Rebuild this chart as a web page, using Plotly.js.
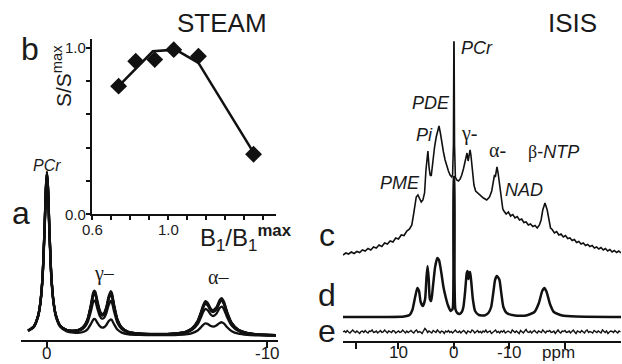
<!DOCTYPE html>
<html><head><meta charset="utf-8">
<script src="https://cdn.plot.ly/plotly-3.0.1.min.js"></script>
<style>html,body{margin:0;padding:0;background:#fff}#c{width:622px;height:364px}</style>
</head><body><div id="c"></div>
<script>
// ---------- panel b (STEAM B1 dependence) ----------
const bX = [0.74, 0.83, 0.93, 1.03, 1.16, 1.45];
const bY = [0.77, 0.92, 0.93, 0.99, 0.95, 0.36];
const fitX = [0.74, 0.92, 1.04, 1.16, 1.45];
const fitY = [0.77, 0.98, 0.99, 0.91, 0.37];
const bXTicks = [0.6, 0.7, 0.8, 0.9, 1.0, 1.1, 1.2, 1.3, 1.4, 1.5];
const bXLabelVals = [0.6, 1.0];
const bXLabels = ['0.6', '1.0'];
const bYTicks = [0, 0.2, 0.4, 0.6, 0.8, 1.0];
const bYLabelVals = [0, 1.0];
const bYLabels = ['0.0', '1.0'];

// ---------- panel a (STEAM spectra) ----------
const aPpm = [0.86,0.6,0.4,0.3,0.2,0.1,0.05,0,-0.05,-0.1,-0.2,-0.3,-0.4,-0.6,-0.9,-1.2,-1.5,-1.7,-1.85,-2.0,-2.1,-2.15,-2.2,-2.3,-2.4,-2.5,-2.6,-2.7,-2.8,-2.9,-2.95,-3.05,-3.2,-3.4,-3.7,-4.2,-5.0,-5.8,-6.3,-6.6,-6.85,-7.0,-7.1,-7.2,-7.3,-7.45,-7.55,-7.7,-7.85,-7.95,-8.05,-8.2,-8.4,-8.7,-9.1,-9.6,-10.4];
const aPcr = [5,9,20,33,59,113,147,163,147,113,59,33,20,9,4,2.5,1.5,1.2,1,1,0.9,0.9,0.9,0.8,0.8,0.7,0.7,0.7,0.6,0.6,0.6,0.6,0.5,0.5,0.4,0.3,0.2,0.1,0.1,0.1,0,0,0,0,0,0,0,0,0,0,0,0,0,0,0,0,0];
const aNtp = [0.5,0.5,0.6,0.6,0.7,0.7,0.8,0.8,0.8,0.9,1.0,1.1,1.2,1.4,2.0,2.8,5.3,9.5,16.5,31.1,42.9,44.8,43.7,33.7,25.1,21.6,22.8,28.8,39.1,44.8,42.9,31.1,16.5,8.1,3.8,2.2,1.8,2.5,4.2,7.8,15.4,24.3,31.2,35.2,33.6,27.6,26,29,36.3,38.1,34.3,23.6,13.2,6.4,3.1,1.6,0.8];
const aPcrScale = [1.0, 1.0, 0.99, 1.0, 0.98, 0.96];
const aNtpScale = bY; // NTP amplitude follows S/Smax of each acquisition
const aTicks = [0, -10];
const aTickLabels = ['0', '-10'];

// ---------- panel c (ISIS measured spectrum) ----------
const cPpm = [20.0,19.5,19.0,18.5,18.0,17.5,17.0,16.5,16.0,15.5,15.0,14.5,14.0,13.5,13.0,12.5,12.0,11.5,11.0,10.5,10.0,9.5,9.0,8.5,8.0,7.6,7.3,7.0,6.8,6.5,6.2,5.9,5.6,5.3,5.05,4.85,4.7,4.5,4.3,4.1,3.8,3.5,3.2,2.95,2.7,2.45,2.2,1.9,1.6,1.3,1.0,0.7,0.4,0.25,0.1,0.02,-0.02,-0.1,-0.25,-0.5,-0.8,-1.1,-1.4,-1.7,-2.0,-2.2,-2.35,-2.55,-2.75,-2.9,-3.05,-3.3,-3.6,-3.9,-4.3,-4.8,-5.3,-5.9,-6.4,-6.8,-7.1,-7.3,-7.45,-7.6,-7.75,-7.95,-8.2,-8.5,-8.8,-9.0,-9.4,-9.8,-10.2,-10.6,-11.0,-11.4,-11.8,-12.2,-12.6,-13.0,-13.4,-13.8,-14.2,-14.6,-15.0,-15.4,-15.7,-16.0,-16.4,-16.8,-17.1,-17.4,-17.7,-18.1,-18.5,-18.9,-19.3,-19.7,-20.1,-20.5,-20.9,-21.3,-21.7,-22.1,-22.5,-22.9,-23.3,-23.7,-24.1,-24.5,-24.9,-25.3,-25.7,-26.1,-26.5,-26.9,-27.3,-27.7,-28.1,-28.5,-28.9,-29.3,-29.7,-30.1];
const cVal = [0,2,1,3,1.5,3.5,2.5,5,4,6.5,5,8,7,10,8.5,12,11,14,13,17,16,20,19.5,24,26,30,40,52,58,60,56,53,55,62,85,100,104,88,80,79,95,108,118,125,129,122,112,103,95,89,84,80,78,80,110,213,213,110,78,75,74,76,80,86,95,101,102,94,100,105,100,84,70,64,62,59,57,55,58,64,74,80,78,82,88,82,70,56,46,44,41,43,39,40.5,37,38.5,35,36,32.5,33,30,31,28.5,29.5,27,30,35,45,52,45,35,27,25.5,22,23.5,20,21,18,19.5,16.5,17,14.5,15.5,12.5,13.5,11,12,9.5,10.5,8.5,9.5,7,8,6,7.5,5,6.5,4,5.5,3,4.5,2.5,4,2];

// ---------- panel d (ISIS fitted spectrum) ----------
const dPpm = [20,12,9,8,7.5,7.0,6.6,6.3,6.0,5.6,5.2,4.95,4.75,4.55,4.35,4.1,3.8,3.4,3.0,2.7,2.3,1.9,1.5,1.1,0.6,0.25,0.1,0.03,-0.03,-0.1,-0.25,-0.6,-1.0,-1.4,-1.7,-2.0,-2.3,-2.45,-2.6,-2.75,-2.9,-3.1,-3.4,-3.8,-4.5,-5.5,-6.2,-6.7,-7.1,-7.4,-7.7,-7.9,-8.2,-8.5,-8.9,-9.5,-11,-13,-14.5,-15.3,-15.9,-16.3,-16.7,-17.3,-18,-19.5,-22,-30.1];
const dVal = [0,0,0.5,2,7,20,29,26,15,11,18,40,51,38,18,16,30,50,59,57,45,30,20,12,6,8,40,140,140,40,8,4,3,5,10,25,44,46,38,44,45,36,18,6,2,1.5,4,10,25,37,41,40,37,25,10,4,1.5,1.5,5,14,26,29,25,13,5,1.5,0.5,0];

// ---------- panel e (residual), sampled every 0.25 ppm from 20 ppm ----------
const eStart = 20, eStep = -0.25;
const eVal = [
  0,1,-0.5,1.5,0,-1,0.5,2,0.5,-0.5,1,0,-1.5,0.5,1,-0.5,1.5,0,-1,1,
  0.5,2,-0.5,0,1,-1,0.5,1.5,-0.5,0,2,0.5,-1,1,0,-0.5,1.5,1,-1,0.5,
  1,-0.5,0,2,0.5,-1,1,-0.5,0.5,1.5,0,-1,1,2,-0.5,0.5,0,-1.5,1,3.5,
  2,-0.5,1,0,-1,1.5,0.5,-0.5,2,0,-1,1,0.5,-1.5,1,0,1.5,-0.5,0.5,-1,
  1,2,0,-0.5,1,-1,0.5,1.5,0,-1.5,1,0.5,-0.5,2,1,-1,0,1.5,-0.5,0.5,
  -1,1,0,2,-0.5,0.5,1,-1.5,0,1,2,-0.5,0.5,-1,1,0,1.5,-1,0.5,1,
  0,-1,2,0.5,-0.5,1,0,-1.5,1.5,0.5,-1,1,2.5,0,-0.5,1,-1,0.5,1.5,0,
  -1,1,0.5,-0.5,2,0,-1,1,0.5,1.5,-0.5,0,1,-1.5,0.5,2,0,-1,1,0.5,
  1.5,-0.5,0,1,-1,0.5,2,0,-1.5,1,0.5,-0.5,1.5,0,-1,1,2,-0.5,0.5,0,
  -1,1.5,0.5,-0.5,1,0,-1,2,0.5,-0.5,1,-1.5,0,1,0.5,-0.5,1.5,0,-1,1,
  0];
const ppmTicks = [17.7, 10, 0, -10, -20];
const ppmLabelVals = [10, 0, -10];
const ppmLabels = ['10', '0', '-10'];

// ---------- build ----------
const W = 622, H = 364;
const BLACK = '#111';
const TXT = '#1a1a1a';
const FONT = 'Liberation Sans, Arial, sans-serif';
const SERIF = 'Liberation Serif, Times New Roman, serif';
const offC = 86, offD = 24, offE = 9;

const traces = [];
for (let i = 0; i < aNtpScale.length; i++) {
  traces.push({x: aPpm, y: aPpm.map((_, k) => aPcrScale[i] * aPcr[k] + aNtpScale[i] * aNtp[k]),
    xaxis: 'x', yaxis: 'y', mode: 'lines', line: {color: BLACK, width: 2.3, shape: 'spline', smoothing: 0.6}});
}
traces.push({x: fitX, y: fitY, xaxis: 'x2', yaxis: 'y2', mode: 'lines', line: {color: BLACK, width: 2.5}});
traces.push({x: bX, y: bY, xaxis: 'x2', yaxis: 'y2', mode: 'markers', marker: {symbol: 'diamond', size: 13, color: BLACK}});
traces.push({x: cPpm, y: cVal.map(v => v + offC), xaxis: 'x3', yaxis: 'y3', mode: 'lines', line: {color: BLACK, width: 1.6}});
traces.push({x: dPpm, y: dVal.map(v => v + offD), xaxis: 'x3', yaxis: 'y3', mode: 'lines', line: {color: BLACK, width: 2.5, shape: 'spline', smoothing: 0.5}});
traces.push({x0: eStart, dx: eStep, y: eVal.map(v => v + offE), xaxis: 'x3', yaxis: 'y3', mode: 'lines', line: {color: BLACK, width: 1.4}});

function ann(text, px, py, size, extra) {
  return Object.assign({text: text, x: px / W, y: 1 - py / H, xref: 'paper', yref: 'paper', showarrow: false,
    xanchor: 'center', yanchor: 'middle', borderpad: 0, font: {family: FONT, size: size, color: TXT}}, extra || {});
}
const serifFont = s => ({family: SERIF, size: s, color: TXT});
// tick labels placed on the axes' own data scales
function xTickAnn(axis, val, label, py, size) {
  return {text: label, x: val, xref: axis, y: 1 - py / H, yref: 'paper', showarrow: false, borderpad: 0,
    xanchor: 'center', yanchor: 'middle', font: {family: FONT, size: size, color: TXT}};
}
function yTickAnn(axis, val, label, px, size) {
  return {text: label, y: val, yref: axis, x: px / W, xref: 'paper', showarrow: false, borderpad: 0,
    xanchor: 'right', yanchor: 'middle', font: {family: FONT, size: size, color: TXT}};
}
const annotations = [
  ann('STEAM', 222, 23, 26),
  ann('ISIS', 572, 23, 26),
  ann('b', 30, 49, 32),
  ann('a', 21, 213, 32),
  ann('c', 327, 235, 32),
  ann('d', 327, 295, 32),
  ann('e', 327, 331, 32),
  ann('S/S<sup>max</sup>', 62, 76, 21, {textangle: -90}),
  ann('B<sub>1</sub>/B<sub>1</sub><sup><b>max</b></sup>', 246, 238, 24),
  ann('<i>PCr</i>', 47, 166, 16),
  ann('γ–', 104, 273, 20, {font: serifFont(20)}),
  ann('α–', 218, 277, 20, {font: serifFont(20)}),
  ann('<i>PCr</i>', 460, 48, 18, {xanchor: 'left'}),
  ann('<i>PDE</i>', 431, 103, 18),
  ann('<i>Pi</i>', 424, 135, 18),
  ann('γ-', 469, 133, 20, {font: serifFont(20)}),
  ann('α-', 497, 150, 20, {font: serifFont(20)}),
  ann('<span style="font-family:Liberation Serif">β</span>-<i>NTP</i>', 553, 152, 18),
  ann('<i>PME</i>', 400, 183, 18),
  ann('<i>NAD</i>', 524, 190, 18),
  ann('ppm', 558, 352, 17)
];
aTicks.forEach((v, i) => annotations.push(xTickAnn('x', v, aTickLabels[i], 353, 17)));
ppmLabelVals.forEach((v, i) => annotations.push(xTickAnn('x3', v, ppmLabels[i], 352, 17)));
bXLabelVals.forEach((v, i) => annotations.push(xTickAnn('x2', v, bXLabels[i], 229, 15)));
bYLabelVals.forEach((v, i) => annotations.push(yTickAnn('y2', v, bYLabels[i], 87, 15)));

const axLine = {showline: true, linecolor: BLACK, linewidth: 2, ticks: 'outside', tickcolor: BLACK, tickwidth: 2,
  showgrid: false, zeroline: false, tickmode: 'array', showticklabels: false, fixedrange: true};
const layout = {
  width: W, height: H, margin: {l: 0, r: 0, t: 0, b: 0}, paper_bgcolor: '#fff', plot_bgcolor: 'rgba(0,0,0,0)',
  showlegend: false, font: {family: FONT, color: TXT},
  xaxis: Object.assign({}, axLine, {domain: [21 / W, 278 / W], range: [1.18, -10.5], anchor: 'y',
    tickvals: aTicks, ticklen: 6}),
  yaxis: {domain: [(H - 340) / H, (H - 40) / H], range: [-4, 296], visible: false, fixedrange: true},
  xaxis2: Object.assign({}, axLine, {domain: [92 / W, 276 / W], range: [0.6, 1.568], anchor: 'y2',
    tickvals: bXTicks, ticklen: 4}),
  yaxis2: Object.assign({}, axLine, {domain: [(H - 214) / H, (H - 39) / H], range: [0, 1.054], anchor: 'x2',
    tickvals: bYTicks, ticklen: 4}),
  xaxis3: Object.assign({}, axLine, {domain: [343 / W, 621 / W], range: [20, -30.1], anchor: 'y3',
    tickvals: ppmTicks, ticklen: 6}),
  yaxis3: {domain: [(H - 341) / H, (H - 38) / H], range: [0, 303], visible: false, fixedrange: true, anchor: 'x3'},
  annotations: annotations
};
Plotly.newPlot('c', traces, layout, {staticPlot: true, displayModeBar: false});
</script></body></html>
